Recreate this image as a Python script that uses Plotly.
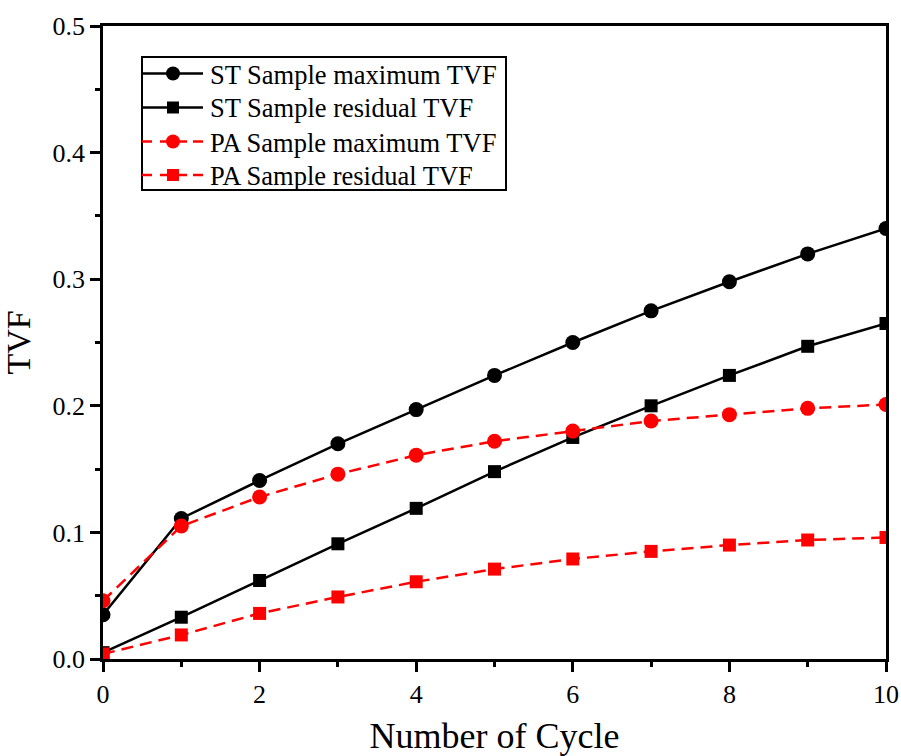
import plotly.graph_objects as go

cycles = [0, 1, 2, 3, 4, 5, 6, 7, 8, 9, 10]
st_max = [0.035, 0.111, 0.141, 0.170, 0.197, 0.224, 0.250, 0.275, 0.298, 0.320, 0.340]
st_res = [0.005, 0.033, 0.062, 0.091, 0.119, 0.148, 0.175, 0.200, 0.224, 0.247, 0.265]
pa_max = [0.046, 0.105, 0.128, 0.146, 0.161, 0.172, 0.180, 0.188, 0.193, 0.198, 0.201]
pa_res = [0.004, 0.019, 0.036, 0.049, 0.061, 0.071, 0.079, 0.085, 0.090, 0.094, 0.096]
series_names = ["ST Sample maximum TVF", "ST Sample residual TVF",
                "PA Sample maximum TVF", "PA Sample residual TVF"]

FONT = "Liberation Serif"
W, H = 901, 756
ML, MR, MT, MB = 103, 15, 26, 97
PW, PH = W - ML - MR, H - MT - MB

fig = go.Figure()
styles = [("black", "solid", "circle"), ("black", "solid", "square"),
          ("red", "12px,7px", "circle"), ("red", "12px,7px", "square")]
data = [st_max, st_res, pa_max, pa_res]
for name, ys, (col, dash, sym) in zip(series_names, data, styles):
    fig.add_trace(go.Scatter(
        x=cycles, y=ys, name=name, mode="lines+markers",
        line=dict(color=col, width=2.5, dash=dash),
        marker=dict(color=col, symbol=sym, size=15 if sym == "circle" else 13),
        cliponaxis=True, showlegend=False,
    ))

# manual legend (to match compact row spacing)
def px_x(p):
    return (p - ML) / PW

def px_y(p):
    return (H - MB - p) / PH

shapes = []
annotations = []
box_l, box_r, box_t, box_b = 142, 506, 57, 190
shapes.append(dict(type="rect", xref="paper", yref="paper",
                   x0=px_x(box_l), x1=px_x(box_r), y0=px_y(box_b), y1=px_y(box_t),
                   line=dict(color="black", width=2), fillcolor="white", layer="above"))
row_y = [73.5, 107.5, 141.5, 175]
for (col, dash, sym), name, ry in zip(styles, series_names, row_y):
    if dash == "solid":
        shapes.append(dict(type="line", xref="paper", yref="paper",
                           x0=px_x(box_l), x1=px_x(203), y0=px_y(ry), y1=px_y(ry),
                           line=dict(color=col, width=2.5), layer="above"))
    else:
        for a, b in [(142, 152), (160, 187), (193, 203)]:
            shapes.append(dict(type="line", xref="paper", yref="paper",
                               x0=px_x(a), x1=px_x(b), y0=px_y(ry), y1=px_y(ry),
                               line=dict(color=col, width=2.5), layer="above"))
    cx = 173
    r = 7 if sym == "circle" else 6
    shapes.append(dict(type="circle" if sym == "circle" else "rect",
                       xref="paper", yref="paper",
                       x0=px_x(cx - r), x1=px_x(cx + r), y0=px_y(ry + r), y1=px_y(ry - r),
                       line=dict(color=col, width=0), fillcolor=col, layer="above"))
    annotations.append(dict(xref="paper", yref="paper", x=px_x(208), y=px_y(ry + 1),
                            text=name, showarrow=False, xanchor="left", yanchor="middle",
                            font=dict(family=FONT, size=26.5, color="black")))

axis_common = dict(
    showline=True, linecolor="black", linewidth=2.5, mirror=True,
    ticks="outside", ticklen=10, tickwidth=2.5, tickcolor="black",
    showgrid=False, zeroline=False, automargin=False,
    tickfont=dict(family=FONT, size=26, color="black"),
    minor=dict(ticks="outside", ticklen=5, tickwidth=2.5, tickcolor="black"),
)

fig.update_xaxes(
    range=[0, 10], dtick=2, tick0=0,
    title=dict(text="Number of Cycle", font=dict(family=FONT, size=36, color="black"), standoff=16),
    **axis_common,
)
fig.update_xaxes(minor=dict(dtick=1))
fig.update_yaxes(
    range=[0, 0.5], dtick=0.1, tick0=0, tickformat=".1f",
    title=dict(text="TVF", font=dict(family=FONT, size=34, color="black"), standoff=12),
    **axis_common,
)
fig.update_yaxes(minor=dict(dtick=0.05))

fig.update_layout(
    width=W, height=H,
    margin=dict(l=ML, r=MR, t=MT, b=MB),
    paper_bgcolor="white", plot_bgcolor="white",
    font=dict(family=FONT, color="black"),
    showlegend=False,
    shapes=shapes, annotations=annotations,
)

fig.write_html("out.html")
